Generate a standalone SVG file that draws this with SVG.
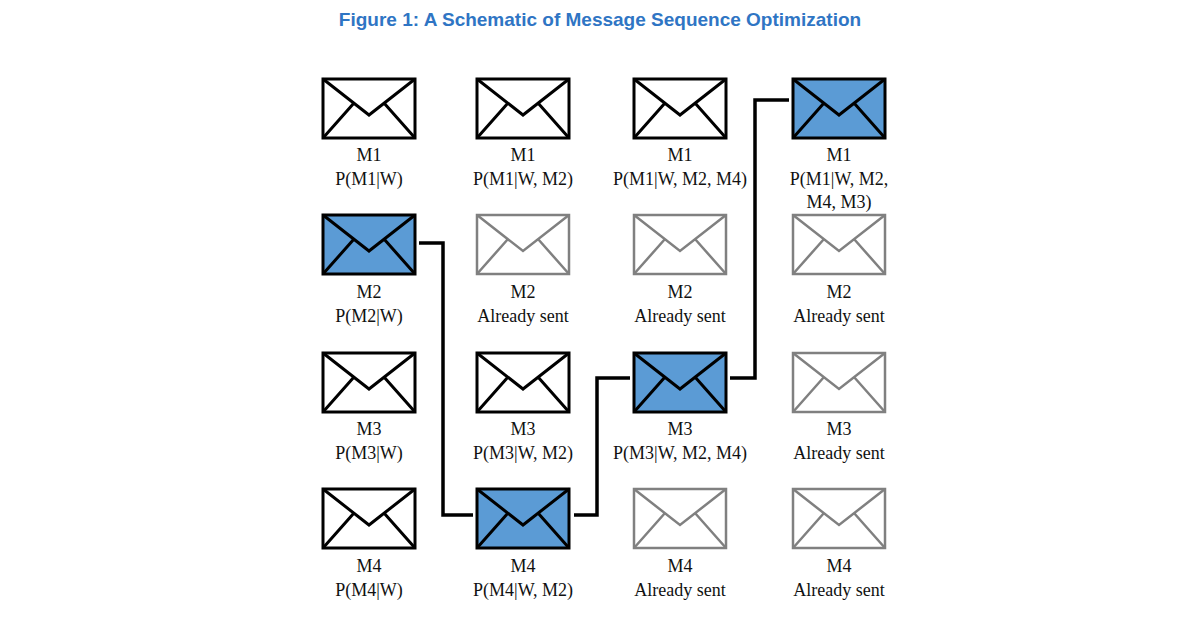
<svg xmlns="http://www.w3.org/2000/svg" width="1200" height="627" viewBox="0 0 1200 627">
<style>
.env{fill:#fff;stroke:#000;stroke-width:3}
.sel{fill:#5b9bd5}
.sent{stroke:#808080;stroke-width:2.5}
text{font-family:"Liberation Serif",serif;font-size:18px;text-anchor:middle;fill:#111;stroke:none}
.title{font-family:"Liberation Sans",Arial,sans-serif;font-weight:bold;font-size:19px;fill:#2f75c4}
.conn{fill:none;stroke:#000;stroke-width:3.5}
</style>
<defs>
<g id="e"><rect x="-46" y="0" width="92" height="59"/><path fill="none" d="M-46,0 L0,36 L46,0 M-46,59 L-15,24 M46,59 L15,24"/></g>
</defs>
<text class="title" x="600" y="26">Figure 1: A Schematic of Message Sequence Optimization</text>
<g class="conn-group">
<path class="conn" d="M419,243 H443 V515 H473"/>
<path class="conn" d="M574,515 H597 V378 H630"/>
<path class="conn" d="M730,378 H755 V100 H789"/>
</g>
<g id="c1r1" class="env" transform="translate(369,79)"><use href="#e"/></g>
<text x="369" y="161">M1</text><text x="369" y="185">P(M1|W)</text>
<g id="c1r2" class="env sel" transform="translate(369,215)"><use href="#e"/></g>
<text x="369" y="298">M2</text><text x="369" y="322">P(M2|W)</text>
<g id="c1r3" class="env" transform="translate(369,353)"><use href="#e"/></g>
<text x="369" y="435">M3</text><text x="369" y="459">P(M3|W)</text>
<g id="c1r4" class="env" transform="translate(369,489)"><use href="#e"/></g>
<text x="369" y="572">M4</text><text x="369" y="596">P(M4|W)</text>

<g id="c2r1" class="env" transform="translate(523,79)"><use href="#e"/></g>
<text x="523" y="161">M1</text><text x="523" y="185">P(M1|W, M2)</text>
<g id="c2r2" class="env sent" transform="translate(523,215)"><use href="#e"/></g>
<text x="523" y="298">M2</text><text x="523" y="322">Already sent</text>
<g id="c2r3" class="env" transform="translate(523,353)"><use href="#e"/></g>
<text x="523" y="435">M3</text><text x="523" y="459">P(M3|W, M2)</text>
<g id="c2r4" class="env sel" transform="translate(523,489)"><use href="#e"/></g>
<text x="523" y="572">M4</text><text x="523" y="596">P(M4|W, M2)</text>

<g id="c3r1" class="env" transform="translate(680,79)"><use href="#e"/></g>
<text x="680" y="161">M1</text><text x="680" y="185">P(M1|W, M2, M4)</text>
<g id="c3r2" class="env sent" transform="translate(680,215)"><use href="#e"/></g>
<text x="680" y="298">M2</text><text x="680" y="322">Already sent</text>
<g id="c3r3" class="env sel" transform="translate(680,353)"><use href="#e"/></g>
<text x="680" y="435">M3</text><text x="680" y="459">P(M3|W, M2, M4)</text>
<g id="c3r4" class="env sent" transform="translate(680,489)"><use href="#e"/></g>
<text x="680" y="572">M4</text><text x="680" y="596">Already sent</text>

<g id="c4r1" class="env sel" transform="translate(839,79)"><use href="#e"/></g>
<text x="839" y="161">M1</text><text x="839" y="185">P(M1|W, M2,</text><text x="839" y="208">M4, M3)</text>
<g id="c4r2" class="env sent" transform="translate(839,215)"><use href="#e"/></g>
<text x="839" y="298">M2</text><text x="839" y="322">Already sent</text>
<g id="c4r3" class="env sent" transform="translate(839,353)"><use href="#e"/></g>
<text x="839" y="435">M3</text><text x="839" y="459">Already sent</text>
<g id="c4r4" class="env sent" transform="translate(839,489)"><use href="#e"/></g>
<text x="839" y="572">M4</text><text x="839" y="596">Already sent</text>
</svg>
